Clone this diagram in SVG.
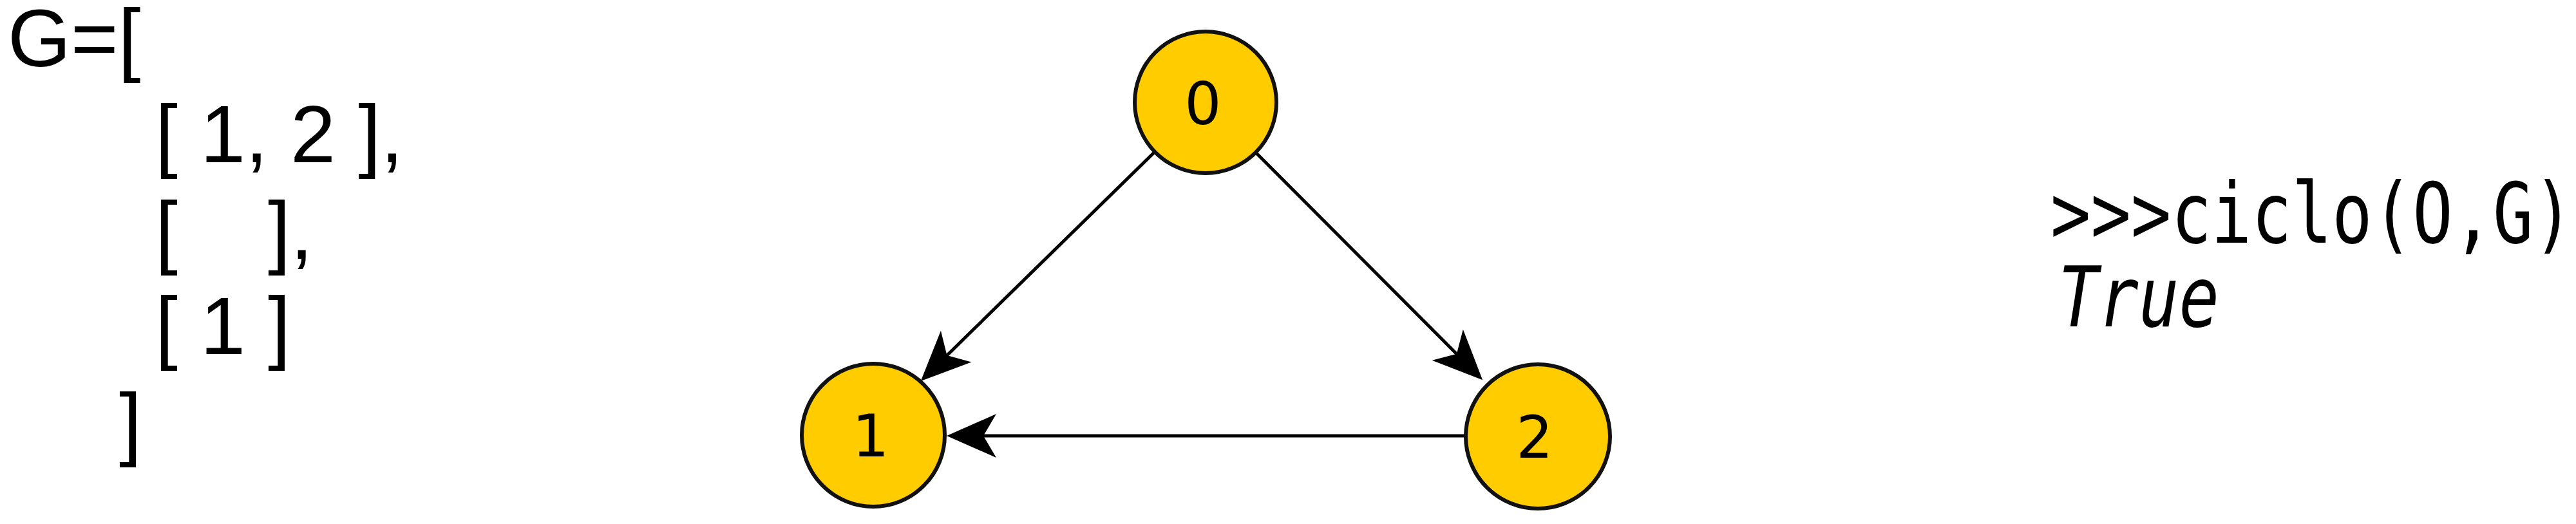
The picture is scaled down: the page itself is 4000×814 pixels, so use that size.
<svg xmlns="http://www.w3.org/2000/svg" width="4000" height="814" viewBox="0 0 4000 814">
<style>
.code{font-family:"Liberation Sans",Arial,sans-serif;font-size:126px;fill:#000;white-space:pre}
.node{fill:#FFCC00;stroke:#111;stroke-width:6}
.lbl{font-family:"DejaVu Sans",sans-serif;font-size:90px;fill:#000;text-anchor:middle}
.edge{stroke:#000;stroke-width:5;fill:none}
.py{font-family:"DejaVu Sans Mono",monospace;font-size:130px;fill:#000}
</style>
<defs>
<marker id="vee" markerUnits="userSpaceOnUse" markerWidth="80" markerHeight="72" viewBox="0 0 80 72" refX="57" refY="36" orient="auto">
<path d="M77,36 L0,2 L20,36 L0,70 Z" fill="#000"/>
</marker>
</defs>
<rect width="4000" height="814" fill="#fff"/>
<g id="list">
<text class="code" x="12" y="103" xml:space="preserve">G=[</text>
<text class="code" x="241" y="252" xml:space="preserve">[ 1, 2 ],</text>
<text class="code" x="241" y="402" xml:space="preserve">[    ],</text>
<text class="code" x="241" y="550" xml:space="preserve">[ 1 ]</text>
<text class="code" x="185" y="700" xml:space="preserve">]</text>
</g>
<g id="connectors">
<path class="edge" d="M1793,236 L1444,578" marker-end="url(#vee)"/>
<path class="edge" d="M1950,237 L2288,576" marker-end="url(#vee)"/>
<path class="edge" d="M2276,677 L1490,677" marker-end="url(#vee)"/>
</g>
<g id="node0">
<circle class="node" cx="1872" cy="159" r="110"/>
<text class="lbl" x="1868" y="193">0</text>
</g>
<g id="node1">
<circle class="node" cx="1356" cy="676" r="111"/>
<text class="lbl" x="1352" y="709">1</text>
</g>
<g id="node2">
<circle class="node" cx="2388" cy="678" r="112"/>
<text class="lbl" x="2383" y="711">2</text>
</g>
<g id="output">
<text class="py" x="3184" y="377" textLength="812" lengthAdjust="spacingAndGlyphs">&gt;&gt;&gt;ciclo(O,G)</text>
<text class="py" x="3196" y="507" font-style="italic" textLength="250" lengthAdjust="spacingAndGlyphs">True</text>
</g>
</svg>
